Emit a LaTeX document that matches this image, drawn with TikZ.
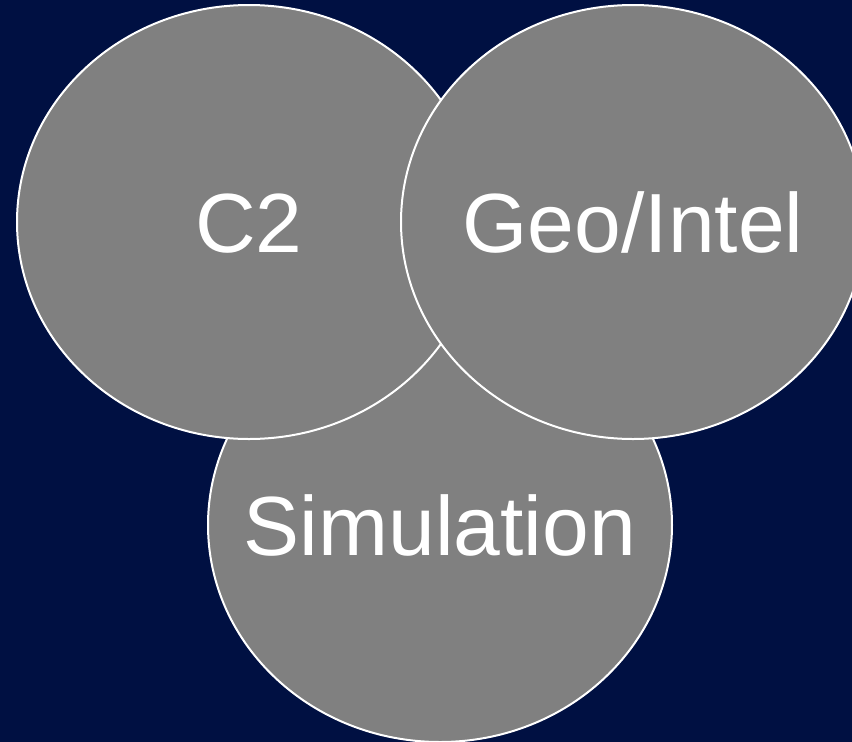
\documentclass[tikz,border=0pt]{standalone}
\usepackage{fontspec}
\setmainfont{Liberation Sans}
\usetikzlibrary{shapes.geometric}
\definecolor{navybg}{RGB}{0,16,66}
\definecolor{bubblegray}{RGB}{128,128,128}
\begin{document}
\begin{tikzpicture}[
		x=1pt, y=-1pt,
		bubble/.style={ellipse, draw=white, line width=2pt, fill=bubblegray,
			minimum width=464pt, minimum height=434pt, inner sep=0pt},
		bubbletext/.style={text=white, font=\fontsize{84}{90}\selectfont,
			inner sep=0pt, text height=60pt, text depth=0pt}
	]
	% Hintergrund
	\fill[navybg] (0,0) rectangle (852,742);
	\useasboundingbox (0,0) rectangle (852,742);
	% Kreise, unten zuerst
	\node[bubble] (sim) at (440,525) {};
	\node[bubbletext] (simtext) at (sim.center) {Simulation};
	\node[bubble] (c2) at (249,222) {};
	\node[bubbletext] (c2text) at (c2.center) {C2};
	\node[bubble] (geo) at (633,222) {};
	\node[bubbletext] (geotext) at (geo.center) {Geo/Intel};
\end{tikzpicture}
\end{document}
